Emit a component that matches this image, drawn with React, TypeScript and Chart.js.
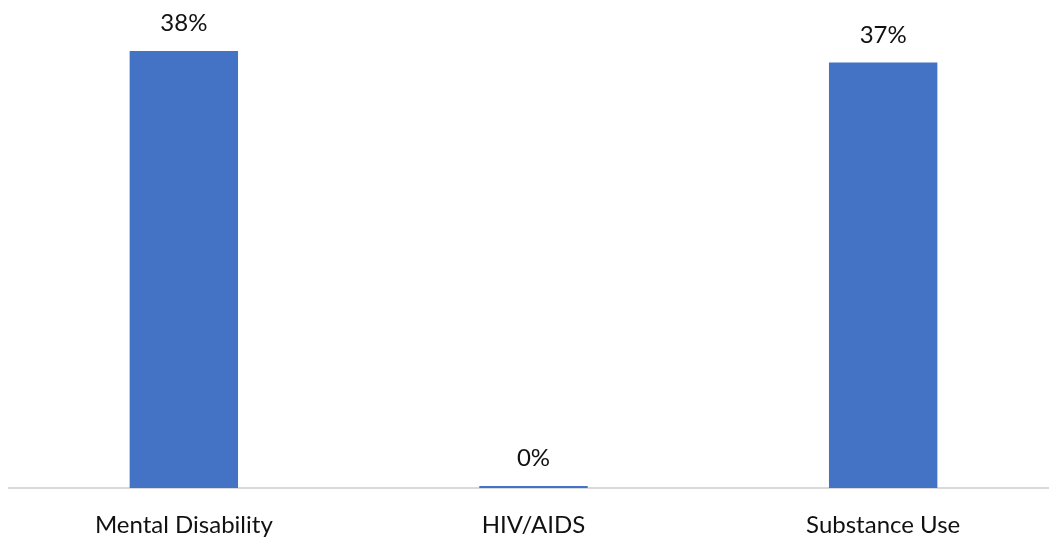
import React, { useEffect, useRef } from "react";
import { Chart, registerables } from "chart.js";

Chart.register(...registerables);

const categories = ["Mental Disability", "HIV/AIDS", "Substance Use"];
const values = [38, 0, 37];
const valueLabels = ["38%", "0%", "37%"];

const BAR_COLOR = "#4472C4";
const FONT = "Lato, 'Open Sans', sans-serif";

const valueLabelPlugin = {
  id: "valueLabels",
  afterDatasetsDraw(chart: any) {
    const ctx = chart.ctx;
    const meta = chart.getDatasetMeta(0);
    ctx.save();
    ctx.font = `24px ${FONT}`;
    ctx.fillStyle = "#111111";
    ctx.textAlign = "center";
    ctx.textBaseline = "alphabetic";
    meta.data.forEach((bar: any, i: number) => {
      ctx.fillText(valueLabels[i], bar.x, bar.y - 20);
    });
    ctx.restore();
  },
};

export default function App() {
  const ref = useRef<HTMLCanvasElement | null>(null);
  useEffect(() => {
    if (!ref.current) return;
    const chart = new Chart(ref.current, {
      type: "bar",
      data: {
        labels: categories,
        datasets: [
          {
            data: values,
            backgroundColor: BAR_COLOR,
            barPercentage: 0.62,
            categoryPercentage: 0.5,
            minBarLength: 2,
          },
        ],
      },
      options: {
        responsive: false,
        animation: false,
        layout: { padding: { left: 9, right: 0, top: 28, bottom: 0 } },
        plugins: { legend: { display: false }, tooltip: { enabled: false } },
        scales: {
          y: { display: false, min: 0, max: 40 },
          x: {
            afterFit: (axis: any) => {
              axis.height = 52;
            },
            grid: { display: false, drawTicks: false },
            border: { display: true, color: "#d9d9d9", width: 2 },
            ticks: {
              padding: 23,
              color: "#111111",
              font: { family: FONT, size: 24 },
            },
          },
        },
      },
      plugins: [valueLabelPlugin],
    });
    return () => chart.destroy();
  }, []);
  return (
    <div
      style={{
        position: "fixed",
        left: 0,
        top: 0,
        width: 1049,
        height: 540,
        overflow: "hidden",
        background: "#ffffff",
      }}
    >
      <canvas ref={ref} width={1058} height={540} style={{ display: "block" }} />
    </div>
  );
}
